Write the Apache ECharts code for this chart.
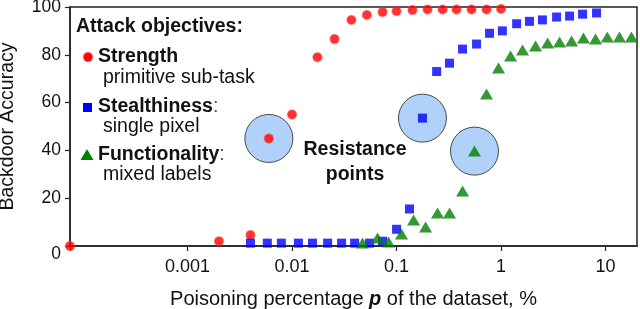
<!DOCTYPE html>
<html>
<head>
<meta charset="utf-8">
<script src="https://cdn.jsdelivr.net/npm/echarts@6/dist/echarts.min.js"></script>
<style>
html,body{margin:0;padding:0;background:#fff;}
#chart{width:640px;height:309px;}
</style>
</head>
<body>
<div id="chart"></div>
<script>
// ---- data ----
const xTicks = [0.001, 0.01, 0.1, 1, 10];
const xTickLabels = ['0.001', '0.01', '0.1', '1', '10'];
const xZeroAt = 7.5e-5;   // p = 0 is drawn at the axis start, labelled "0"
const xMaxP = 20;
const yTicks = [0, 20, 40, 60, 80, 100];

const strengthP   = [0, 0.002, 0.004, 0.006, 0.01, 0.0175, 0.0255, 0.037, 0.052, 0.0735, 0.1, 0.142, 0.198, 0.276, 0.375, 0.522, 0.727, 1.0];
const strengthAcc = [0, 2, 4.6, 45, 55, 79, 86.6, 94.6, 96.7, 97.9, 98.3, 98.7, 99, 99, 99, 99, 99, 99.2];

const stealthP   = [0.004, 0.0058, 0.0079, 0.0115, 0.0157, 0.0219, 0.0298, 0.0397, 0.0552, 0.0735, 0.1, 0.133, 0.177, 0.242, 0.321, 0.428, 0.583, 0.776, 1.03, 1.41, 1.87, 2.49, 3.4, 4.53, 6.03, 8.2];
const stealthAcc = [1.2, 1.2, 1.2, 1.2, 1.2, 1.2, 1.2, 1.2, 1.2, 2, 7, 15.5, 53.5, 73, 76.5, 82.4, 84.5, 89, 90, 93, 94, 94.6, 95.8, 96.2, 97, 97.5];

const funcP   = [0.0473, 0.0658, 0.0838, 0.1116, 0.1455, 0.1896, 0.2468, 0.3215, 0.4285, 0.557, 0.726, 0.946, 1.233, 1.606, 2.14, 2.79, 3.63, 4.73, 6.15, 8.02, 10.4, 13.6, 17.7];
const funcAcc = [1.3, 3.3, 1.7, 5, 10.9, 8, 13.8, 13.8, 23, 39.7, 63.6, 74.5, 79.5, 82, 83.7, 84.9, 85.4, 85.8, 87, 86.6, 87.4, 87.4, 87.4];

// resistance points (index into each series)
const resistStrength = 3;
const resistStealth = 12;
const resistFunc = 9;

// ---- helpers ----
const lx = p => (p <= 0 ? Math.log10(xZeroAt) : Math.log10(p));
const pts = (ps, vs) => ps.map((p, i) => [lx(p), vs[i]]);
const FONT = '"Liberation Sans", Arial, sans-serif';
const LF = 19.5; // legend font size

const chart = echarts.init(document.getElementById('chart'), null, {renderer: 'canvas'});

const xMin = lx(0), xMax = Math.log10(xMaxP);
const tickVals = [xMin].concat(xTicks.map(lx));
const labelVals = xTicks.map(lx);

const circleData = [
  [lx(strengthP[resistStrength]), strengthAcc[resistStrength]],
  [lx(stealthP[resistStealth]), stealthAcc[resistStealth]],
  [lx(funcP[resistFunc]), funcAcc[resistFunc]]
];

chart.setOption({
  animation: false,
  backgroundColor: '#fff',
  grid: {left: 70, right: 3, top: 7, bottom: 63, show: true, borderColor: '#222', borderWidth: 1.5,
         containLabel: false, outerBoundsMode: 'none'},
  xAxis: {
    type: 'value', min: xMin, max: xMax,
    name: 'Poisoning percentage {i|p} of the dataset, %',
    nameLocation: 'middle', nameGap: 43,
    nameTextStyle: {fontFamily: FONT, fontSize: 20, color: '#111',
      rich: {i: {fontFamily: FONT, fontSize: 20, fontStyle: 'italic', fontWeight: 'bold', color: '#111'}}},
    axisLine: {show: true, onZero: false, lineStyle: {color: '#222', width: 1.5}},
    axisTick: {show: true, inside: false, length: 5, lineStyle: {color: '#222', width: 1.2}, customValues: tickVals},
    axisLabel: {show: true, margin: 12, fontFamily: FONT, fontSize: 18, color: '#111', customValues: labelVals,
      formatter: v => {
        let best = 0, d = 1e9;
        labelVals.forEach((lv, i) => { if (Math.abs(lv - v) < d) { d = Math.abs(lv - v); best = i; } });
        return xTickLabels[best];
      }},
    splitLine: {show: false}
  },
  yAxis: {
    type: 'value', min: 0, max: 100, interval: 20,
    name: 'Backdoor Accuracy', nameLocation: 'middle', nameGap: 52,
    nameTextStyle: {fontFamily: FONT, fontSize: 19.5, color: '#111'},
    axisLine: {show: true, onZero: false, lineStyle: {color: '#222', width: 1.5}},
    axisTick: {show: true, inside: false, length: 5, lineStyle: {color: '#222', width: 1.2}},
    axisLabel: {margin: 9, fontFamily: FONT, fontSize: 17.5, color: '#111',
      formatter: v => (v === 0 ? '{z|0}' : String(v)),
      rich: {z: {fontFamily: FONT, fontSize: 17.5, color: '#111', padding: [16, 0, 0, 0]}}},
    splitLine: {show: false}
  },
  series: [
    {
      type: 'scatter', name: 'resistance', z: 1, silent: true,
      symbol: 'circle', symbolSize: 48,
      itemStyle: {color: '#9cc5f7', borderColor: '#222', borderWidth: 1},
      data: circleData
    },
    {
      type: 'scatter', name: 'Strength', z: 3,
      symbol: 'circle', symbolSize: 9,
      itemStyle: {color: '#ff0000', borderColor: 'rgba(255,60,60,0.55)', borderWidth: 1.5},
      data: pts(strengthP, strengthAcc)
    },
    {
      type: 'scatter', name: 'Stealthiness', z: 3,
      symbol: 'rect', symbolSize: 9,
      itemStyle: {color: '#0000ff'},
      data: pts(stealthP, stealthAcc)
    },
    {
      type: 'scatter', name: 'Functionality', z: 3,
      symbol: 'triangle', symbolSize: [13, 11],
      itemStyle: {color: '#008000'},
      data: pts(funcP, funcAcc)
    }
  ],
  graphic: [
    {type: 'text', x: 76, y: 27, style: {text: 'Attack objectives:', font: 'bold ' + LF + 'px ' + FONT, fill: '#111', verticalAlign: 'middle'}},
    {type: 'circle', shape: {cx: 88, cy: 57, r: 4.5}, style: {fill: '#ff0000', stroke: 'rgba(255,60,60,0.55)', lineWidth: 1.5}},
    {type: 'text', x: 98, y: 57, style: {text: 'Strength', font: 'bold ' + LF + 'px ' + FONT, fill: '#111', verticalAlign: 'middle'}},
    {type: 'text', x: 103, y: 78, style: {text: 'primitive sub-task', font: LF + 'px ' + FONT, fill: '#111', verticalAlign: 'middle'}},
    {type: 'rect', shape: {x: 83, y: 103, width: 9, height: 9}, style: {fill: '#0000ff'}},
    {type: 'text', x: 98, y: 107, style: {text: '{b|Stealthiness}{n|:}', verticalAlign: 'middle',
      rich: {b: {font: 'bold ' + LF + 'px ' + FONT, fill: '#111'}, n: {font: LF + 'px ' + FONT, fill: '#555'}}}},
    {type: 'text', x: 103, y: 127, style: {text: 'single pixel', font: LF + 'px ' + FONT, fill: '#111', verticalAlign: 'middle'}},
    {type: 'polygon', shape: {points: [[87, 149], [93.5, 160], [80.5, 160]]}, style: {fill: '#008000'}},
    {type: 'text', x: 98, y: 155, style: {text: '{b|Functionality}{n|:}', verticalAlign: 'middle',
      rich: {b: {font: 'bold ' + LF + 'px ' + FONT, fill: '#111'}, n: {font: LF + 'px ' + FONT, fill: '#555'}}}},
    {type: 'text', x: 103, y: 175, style: {text: 'mixed labels', font: LF + 'px ' + FONT, fill: '#111', verticalAlign: 'middle'}},
    {type: 'text', x: 355, y: 162, style: {text: 'Resistance\npoints', font: 'bold ' + LF + 'px ' + FONT, fill: '#111', align: 'center', verticalAlign: 'middle', lineHeight: 25}}
  ]
});
</script>
</body>
</html>
